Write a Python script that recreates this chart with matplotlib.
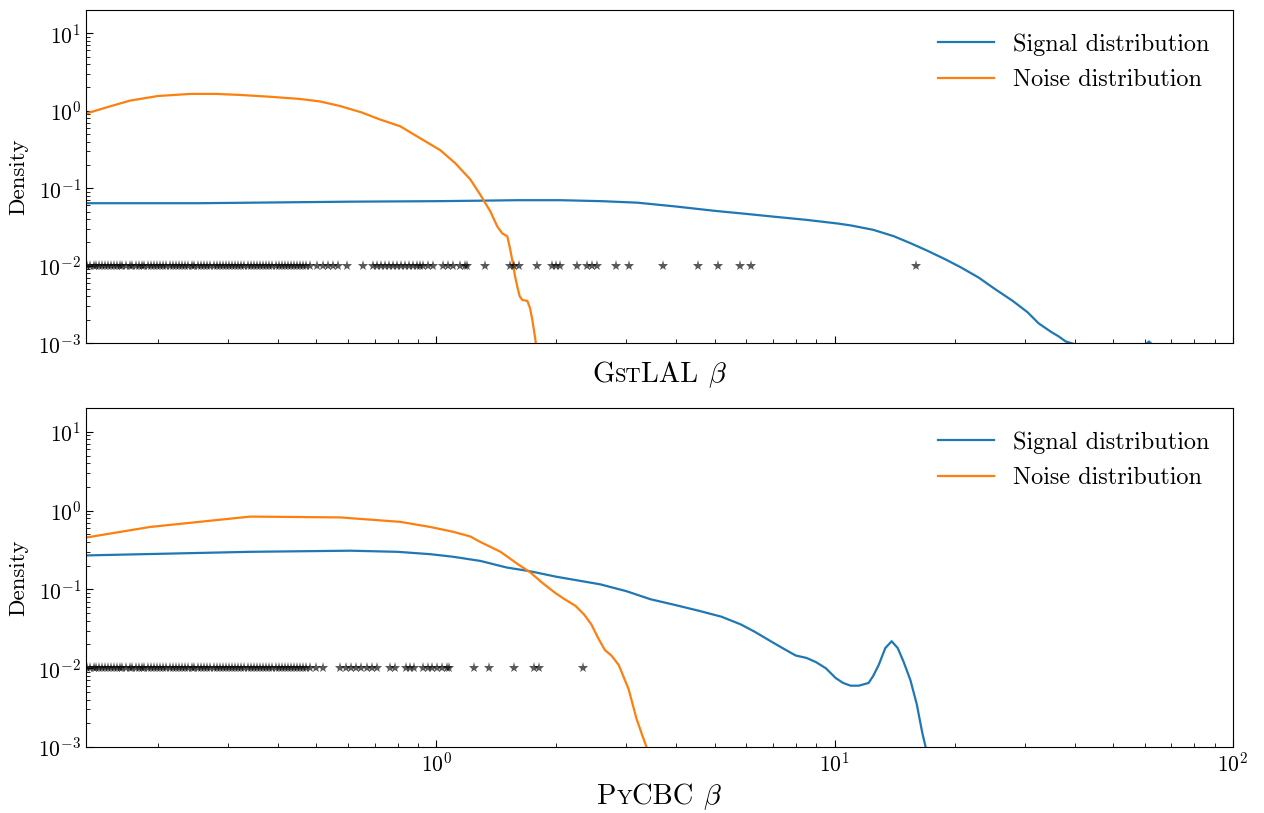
import numpy as np
import matplotlib
matplotlib.use("Agg")
import matplotlib.pyplot as plt
from matplotlib.offsetbox import TextArea, HPacker, AnchoredOffsetbox

plt.rcParams['font.family'] = 'serif'
plt.rcParams['font.serif'] = ['cmr10']
plt.rcParams['mathtext.fontset'] = 'cm'
plt.rcParams['axes.formatter.use_mathtext'] = True

# ---- GstLAL panel ----
gst_sig_x = [0.132, 0.255, 0.608, 1.0, 1.29, 1.6, 2.05, 2.6, 3.20, 4.0, 5.0, 5.90, 7.0, 8.5,
             10.17, 11.0, 12.5, 14.07, 15.5, 17.13, 19.0, 20.74, 23.0, 25.1, 28.0, 30.5, 32.5,
             34.9, 36.5, 38.0, 40.0, 45.0, 52.0, 58.0, 61.5, 65.0, 72.0]
gst_sig_y = [0.064, 0.064, 0.067, 0.068, 0.069, 0.070, 0.070, 0.068, 0.065, 0.058, 0.051,
             0.047, 0.043, 0.039, 0.035, 0.033, 0.029, 0.024, 0.0195, 0.0155, 0.012, 0.0095,
             0.0070, 0.0051, 0.0035, 0.0025, 0.0018, 0.0014, 0.00122, 0.00105, 0.00097,
             0.0006, 0.0005, 0.0008, 0.00105, 0.0008, 0.0003]

gst_noise_x = [0.132, 0.150, 0.170, 0.200, 0.241, 0.280, 0.322, 0.380, 0.455, 0.510, 0.574,
               0.650, 0.723, 0.812, 0.912, 1.023, 1.116, 1.217, 1.29, 1.367, 1.423, 1.465,
               1.507, 1.530, 1.552, 1.575, 1.598, 1.620, 1.645, 1.693, 1.720, 1.742, 1.765, 1.783]
gst_noise_y = [0.92, 1.12, 1.35, 1.55, 1.65, 1.65, 1.6, 1.52, 1.42, 1.32, 1.15, 0.95, 0.77,
               0.63, 0.44, 0.31, 0.21, 0.13, 0.082, 0.05, 0.032, 0.026, 0.024, 0.017, 0.0116,
               0.0075, 0.0053, 0.0040, 0.0036, 0.0035, 0.0028, 0.0020, 0.0013, 0.0009]

dense_beta = [0.133, 0.135, 0.138, 0.140, 0.142, 0.145, 0.147, 0.150, 0.153, 0.155, 0.158,
              0.161, 0.163, 0.166, 0.170, 0.172, 0.176, 0.179, 0.182, 0.185, 0.189, 0.192,
              0.196, 0.199, 0.203, 0.206, 0.210, 0.214, 0.218, 0.222, 0.226, 0.230, 0.234,
              0.238, 0.243, 0.247, 0.252, 0.256, 0.261, 0.266, 0.271, 0.276, 0.281, 0.286,
              0.291, 0.296, 0.302, 0.307, 0.313, 0.318, 0.324, 0.330, 0.336, 0.342, 0.348,
              0.355, 0.361, 0.368, 0.374, 0.381, 0.388, 0.395, 0.402, 0.410, 0.417, 0.425,
              0.432, 0.440, 0.448, 0.456, 0.464, 0.472, 0.482]

gst_trig = dense_beta + [0.502, 0.520, 0.535, 0.551, 0.567, 0.598, 0.656, 0.695, 0.711, 0.727,
                         0.744, 0.762, 0.780, 0.798, 0.817, 0.836, 0.855, 0.875, 0.896, 0.912,
                         0.928, 0.955, 0.983, 1.041, 1.072, 1.103, 1.149, 1.183, 1.196, 1.328,
                         1.534, 1.570, 1.616, 1.794, 1.956, 2.00, 2.05, 2.26, 2.395, 2.465,
                         2.539, 2.818, 3.04, 3.70, 4.53, 5.09, 5.77, 6.15, 15.98]

# ---- PyCBC panel ----
pyc_sig_x = [0.132, 0.341, 0.608, 0.80, 0.966, 1.10, 1.29, 1.50, 1.72, 2.0, 2.58, 3.0, 3.45,
             4.0, 4.60, 5.2, 5.81, 6.3, 6.91, 7.4, 7.98, 8.5, 8.96, 9.5, 10.06, 10.5, 10.96,
             11.5, 12.17, 12.5, 12.9, 13.4, 13.9, 14.4, 14.9, 15.5, 16.07, 16.6, 17.0]
pyc_sig_y = [0.27, 0.30, 0.31, 0.30, 0.28, 0.26, 0.23, 0.19, 0.17, 0.145, 0.116, 0.095, 0.075,
             0.063, 0.053, 0.045, 0.036, 0.029, 0.022, 0.018, 0.0145, 0.0135, 0.012, 0.010,
             0.0075, 0.0065, 0.006, 0.006, 0.0065, 0.008, 0.011, 0.018, 0.022, 0.018, 0.012,
             0.007, 0.0035, 0.0015, 0.0009]

pyc_noise_x = [0.132, 0.191, 0.341, 0.574, 0.812, 0.966, 1.10, 1.217, 1.29, 1.45, 1.60, 1.72,
               1.85, 1.99, 2.10, 2.234, 2.35, 2.45, 2.55, 2.65, 2.75, 2.87, 3.04, 3.18, 3.29, 3.37]
pyc_noise_y = [0.455, 0.62, 0.84, 0.82, 0.72, 0.62, 0.54, 0.47, 0.40, 0.30, 0.21, 0.165,
               0.12, 0.09, 0.075, 0.062, 0.048, 0.036, 0.024, 0.017, 0.0145, 0.011, 0.0054,
               0.0023, 0.0014, 0.001]

pyc_trig = dense_beta + [0.498, 0.520, 0.574, 0.594, 0.612, 0.630, 0.648, 0.671, 0.690, 0.711,
                         0.766, 0.789, 0.841, 0.860, 0.880, 0.928, 0.955, 0.977, 1.006, 1.035,
                         1.066, 1.078, 1.246, 1.359, 1.570, 1.763, 1.814, 2.339]

panels = [
    (gst_sig_x, gst_sig_y, gst_noise_x, gst_noise_y, gst_trig,
     [("G", 20.5), ("ST", 15), ("LAL ", 20.5), (r"$\beta$", 20.5)], -0.052),
    (pyc_sig_x, pyc_sig_y, pyc_noise_x, pyc_noise_y, pyc_trig,
     [("P", 20.5), ("Y", 15), ("CBC ", 20.5), (r"$\beta$", 20.5)], -0.105),
]

fig = plt.figure(figsize=(12.64, 8.13), dpi=100)
ax1 = fig.add_axes([0.068, 0.578, 0.9075, 0.4097])
ax2 = fig.add_axes([0.068, 0.0812, 0.9075, 0.4168], sharex=ax1)

for ax, (sx, sy, nx, ny, trig, label, ly) in zip([ax1, ax2], panels):
    ax.plot(sx, sy, color='C0', lw=1.6, label='Signal distribution')
    ax.plot(nx, ny, color='C1', lw=1.6, label='Noise distribution')
    ax.plot(trig, np.full(len(trig), 0.01), '*', color='black', alpha=0.65,
            markersize=8, markeredgewidth=0)
    ax.set_xscale('log')
    ax.set_yscale('log')
    ax.set_xlim(0.132, 100)
    ax.set_ylim(1e-3, 20)
    ax.set_ylabel('Density', fontsize=16.5)
    ax.tick_params(which='both', direction='in', labelsize=15.5)
    ax.tick_params(which='major', length=5)
    ax.tick_params(which='minor', length=3)
    ax.legend(loc='upper right', frameon=False, fontsize=17.5, handlelength=2.3,
              handletextpad=0.8, labelspacing=0.55, borderaxespad=0.55)

    boxes = [TextArea(t, textprops=dict(fontsize=s)) for t, s in label]
    pack = HPacker(children=boxes, align='baseline', pad=0, sep=0)
    ab = AnchoredOffsetbox(loc='upper center', child=pack, bbox_to_anchor=(0.5, ly),
                           bbox_transform=ax.transAxes, frameon=False, pad=0, borderpad=0)
    ax.add_artist(ab)

ax1.tick_params(labelbottom=False)
for ax in (ax1, ax2):
    ax.yaxis.set_label_coords(-0.05, 0.5)

fig.savefig('out.png', dpi=100)
